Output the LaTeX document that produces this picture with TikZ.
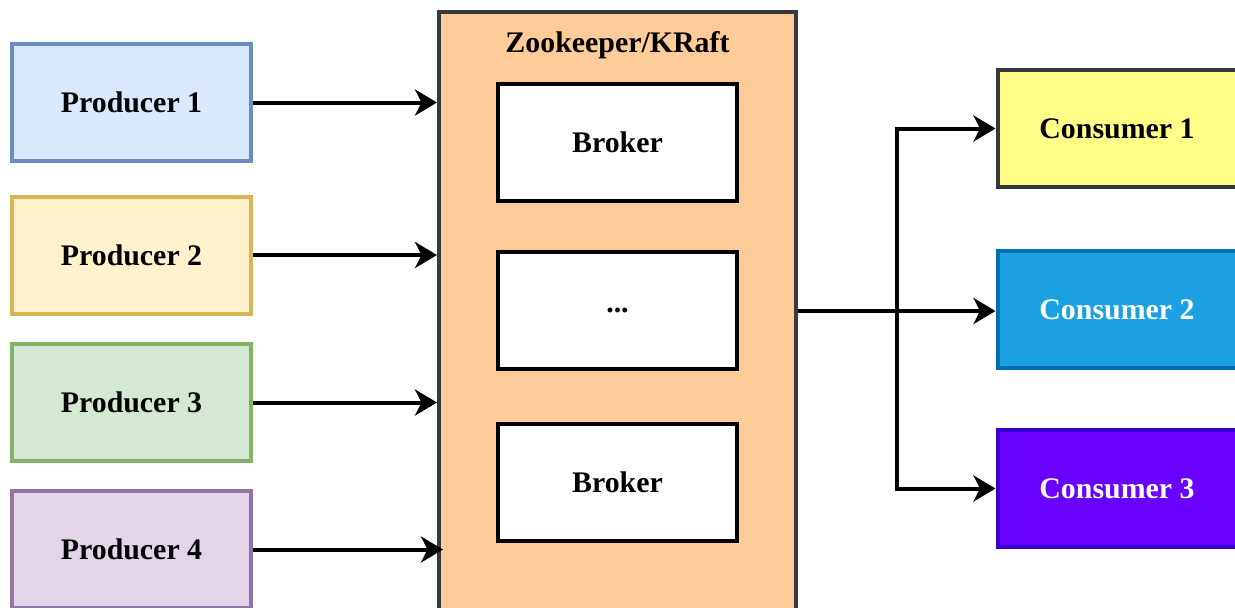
\documentclass[tikz,border=0pt]{standalone}
\usepackage{fontspec}
\setmainfont{Liberation Serif}
\usepackage{tikz}
\usetikzlibrary{arrows.meta,positioning,calc}
\definecolor{bluefill}{RGB}{218, 232, 252}
\definecolor{blueline}{RGB}{108, 142, 191}
\definecolor{yellowfill}{RGB}{255, 242, 204}
\definecolor{yellowline}{RGB}{214, 182, 86}
\definecolor{greenfill}{RGB}{213, 232, 212}
\definecolor{greenline}{RGB}{130, 179, 102}
\definecolor{purplefill}{RGB}{225, 213, 231}
\definecolor{purpleline}{RGB}{150, 115, 166}
\definecolor{clusterfill}{RGB}{255, 204, 153}
\definecolor{darkline}{RGB}{54, 57, 61}
\definecolor{lemonfill}{RGB}{255, 255, 136}
\definecolor{skyfill}{RGB}{27, 161, 226}
\definecolor{skyline}{RGB}{0, 110, 175}
\definecolor{violetfill}{RGB}{106, 0, 255}
\definecolor{violetline}{RGB}{55, 0, 204}

\begin{document}
\begin{tikzpicture}[>={Stealth[length=0.44cm,width=0.52cm,inset=0.13cm]},every node/.style={font=\bfseries\fontsize{17}{20}\selectfont},
  box/.style={draw,line width=0.08cm,minimum width=4.78cm,minimum height=2.34cm,align=center},
  flow/.style={->,line width=0.08cm}]
\useasboundingbox (0,0) rectangle (24.7,-12.14);
\clip (0,0) rectangle (24.7,-12.14);
\node[box,fill=bluefill,draw=blueline](prod1) at (2.63,-2.05){Producer 1};
\node[box,fill=yellowfill,draw=yellowline](prod2) at (2.63,-5.10){Producer 2};
\node[box,fill=greenfill,draw=greenline](prod3) at (2.63,-8.05){Producer 3};
\node[box,fill=purplefill,draw=purpleline](prod4) at (2.63,-10.99){Producer 4};
\node[draw=darkline,fill=clusterfill,line width=0.08cm,minimum width=7.14cm,minimum height=12.7cm](cluster) at (12.35,-6.58){};
\node(title) at (12.35,-0.90){Zookeeper/KRaft};
\node[box,fill=white,draw=black](broker1) at (12.35,-2.85){Broker};
\node[box,fill=white,draw=black](dots) at (12.35,-6.21){...};
\node[box,fill=white,draw=black](broker3) at (12.35,-9.65){Broker};
\node[box,fill=lemonfill,draw=darkline](cons1) at (22.34,-2.57){Consumer 1};
\node[box,fill=skyfill,draw=skyline,text=white](cons2) at (22.34,-6.19){Consumer 2};
\node[box,fill=violetfill,draw=violetline,text=white](cons3) at (22.34,-9.77){Consumer 3};
\coordinate(split) at (17.94,-6.22);
\draw[flow](prod1.east)--(prod1.east-|cluster.west); \draw[flow](prod2.east)--(prod2.east-|cluster.west);
\draw[flow](prod3.east)--(prod3.east-|cluster.west); \draw[flow](prod4.east)--($(prod4.east-|cluster.west)+(0.12,0)$);
\draw[flow](split-|cluster.east)--(split-|cons2.west);
\draw[flow](split)|-(cons1.west); \draw[flow](split)|-(cons3.west);
\end{tikzpicture}
\end{document}
